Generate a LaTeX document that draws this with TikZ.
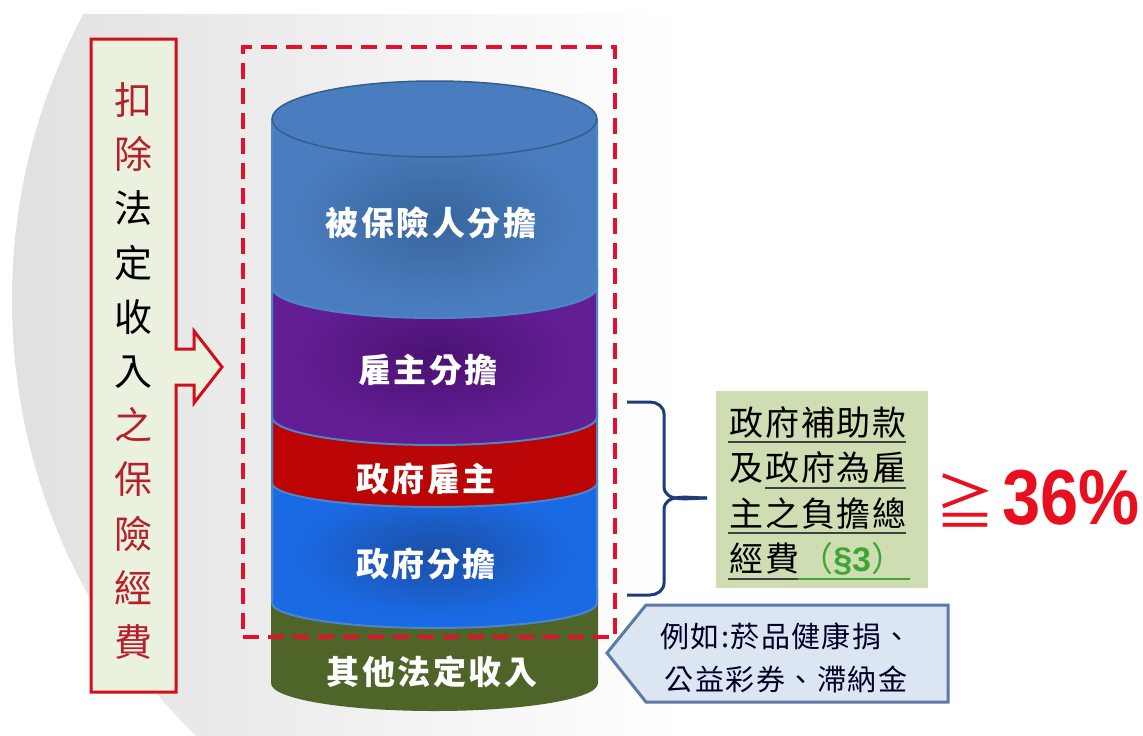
\documentclass[tikz,border=0pt]{standalone}
\usepackage{fontspec}
\setmainfont{Liberation Sans}
\newfontfamily\cjk{Noto Sans CJK TC}
\definecolor{dashred}{HTML}{E3102E}
\definecolor{navy}{HTML}{1F3C7A}
\definecolor{edgeblue}{HTML}{4A86C8}
\definecolor{sidered}{HTML}{B5202A}
\definecolor{sidefill}{HTML}{EAF1DF}
\definecolor{gboxfill}{HTML}{CFDDB2}
\definecolor{notefill}{HTML}{DCE6F2}
\definecolor{noteedge}{HTML}{5B7BA6}
\definecolor{textred}{HTML}{E8101E}
\definecolor{gtext}{HTML}{3FA535}
\definecolor{aIn}{HTML}{37659C}\definecolor{aOut}{HTML}{4A7DBF}
\definecolor{bIn}{HTML}{4A1270}\definecolor{bOut}{HTML}{631E96}
\definecolor{cIn}{HTML}{B80808}\definecolor{cOut}{HTML}{BC0404}
\definecolor{dIn}{HTML}{1C4FA4}\definecolor{dOut}{HTML}{1A6AE6}
\definecolor{eIn}{HTML}{4F6429}\definecolor{eOut}{HTML}{4F6429}
\newcommand{\spotshade}[3]{\pgfdeclareradialshading{#1}{\pgfpointorigin}{color(0bp)=(#2); color(22bp)=(#3); color(50bp)=(#3)}}
\spotshade{spotA}{aIn}{aOut}
\spotshade{spotB}{bIn}{bOut}
\spotshade{spotC}{cIn}{cOut}
\spotshade{spotD}{dIn}{dOut}
\spotshade{spotE}{eIn}{eOut}
\tikzset{
  x=1pt,y=-1pt,
  lbl/.style={text=white,inner sep=0pt,font=\cjk\bfseries\fontsize{33}{36}\selectfont\addfontfeature{LetterSpace=8}},
  uline/.style={line width=1.6pt,draw=black!75},
  gline/.style={line width=1.6pt,draw=gtext},
}
\newcommand{\cylb}[5]{%
  \path[draw=#5,line width=2pt,shading=#4] (272,#1) -- (272,#2) arc[start angle=180,end angle=360,x radius=162.5pt,y radius=#3pt] -- (597,#1) -- cycle;
}
\begin{document}
\begin{tikzpicture}
\useasboundingbox (0,0) rectangle (1143,736);
\fill[white] (0,0) rectangle (1143,736);
% backdrop disc
\begin{scope}
  \clip (620,300) circle[radius=608pt];
  \shade[left color=black!12,middle color=black!9,right color=white] (10,14) rectangle (680,736);
\end{scope}
% cylinder layers
\cylb{590}{683}{27}{spotE}{eOut}
\cylb{480}{603}{25}{spotD}{edgeblue}
\cylb{410}{483}{24}{spotC}{edgeblue}
\cylb{270}{417}{28}{spotB}{edgeblue}
\cylb{120}{287}{31}{spotA}{edgeblue}
\path[draw=edgeblue!70!black,line width=1.5pt,fill=aOut] (434.5,119) ellipse[x radius=162.5pt,y radius=38pt];
% dashed frame
\node[draw=dashred,line width=4pt,dash pattern=on 16pt off 9pt,minimum width=372pt,minimum height=590pt,inner sep=0pt] (frame) at (429,342) {};
% cylinder labels
\node[lbl] (insured) at (431,223) {被保險人分擔};
\node[lbl] (employer) at (428,370) {雇主分擔};
\node[lbl] (govemp) at (426,479) {政府雇主};
\node[lbl] (govshare) at (426,564) {政府分擔};
\node[lbl] (other) at (432,672) {其他法定收入};
% left arrow box
\path[draw=textred!90!black,line width=3pt,fill=sidefill] (91,39) -- (176,39) -- (176,349) -- (194,349) -- (194,331) -- (222,367) -- (194,403) -- (194,385) -- (176,385) -- (176,692) -- (91,692) -- cycle;
\node[inner sep=0pt,align=center,font=\cjk\fontsize{38}{54.2}\selectfont] (sidetext) at (133,371) {\textcolor{sidered}{扣}\\\textcolor{sidered}{除}\\法\\定\\收\\入\\\textcolor{sidered}{之}\\\textcolor{sidered}{保}\\\textcolor{sidered}{險}\\\textcolor{sidered}{經}\\\textcolor{sidered}{費}};
% brace
\coordinate (braceA) at (627,402);
\coordinate (braceB) at (627,595);
\coordinate (braceC) at (707,498);
\draw[navy,line width=3pt] (braceA) -- (650,402) to[out=0,in=90] (664,414) -- (664,486) to[out=-90,in=180] (braceC);
\draw[navy,line width=3pt] (braceB) -- (650,595) to[out=0,in=-90] (664,583) -- (664,510) to[out=90,in=180] (braceC);
% green box
\node[fill=gboxfill,minimum width=212pt,minimum height=197pt,inner sep=0pt] (gbox) at (822,489.5) {};
\node[inner sep=0pt,align=left,text=black,font=\cjk\fontsize{34}{45.5}\selectfont\addfontfeature{LetterSpace=5}] (gtextnode) at (818,491) {政府補助款\\及政府為雇\\主之負擔總\\經費\textcolor{gtext}{（{\normalfont\bfseries §3}）}};
\coordinate (u1a) at (728,442); \coordinate (u1b) at (906,442);
\coordinate (u2a) at (765,488); \coordinate (u2b) at (906,488);
\coordinate (u3a) at (728,533); \coordinate (u3b) at (906,533);
\coordinate (u4a) at (728,579); \coordinate (u4b) at (798,579); \coordinate (u4c) at (910,579);
\draw[uline] (u1a) -- (u1b);
\draw[uline] (u2a) -- (u2b);
\draw[uline] (u3a) -- (u3b);
\draw[uline] (u4a) -- (u4b);
\draw[gline] (u4b) -- (u4c);
% geq 36%
\node[inner sep=0pt,text=textred,font=\cjk\fontsize{60}{60}\selectfont] (geq) at (965,500) {≧};
\node[inner sep=0pt,text=textred,anchor=west,xscale=.88,transform shape,font=\fontsize{78}{78}\selectfont\bfseries] (pct) at (1002,498) {36\%};
% note callout
\path[draw=noteedge,line width=3pt,fill=notefill] (607,653) -- (646,605) -- (948,605) -- (948,702) -- (646,702) -- cycle;
\node[inner sep=0pt,align=center,text=black!85!blue,font=\cjk\fontsize{29}{43}\selectfont\addfontfeature{LetterSpace=5}] (note) at (786,658) {例如:菸品健康捐、\\公益彩券、滯納金};
\end{tikzpicture}
\end{document}
